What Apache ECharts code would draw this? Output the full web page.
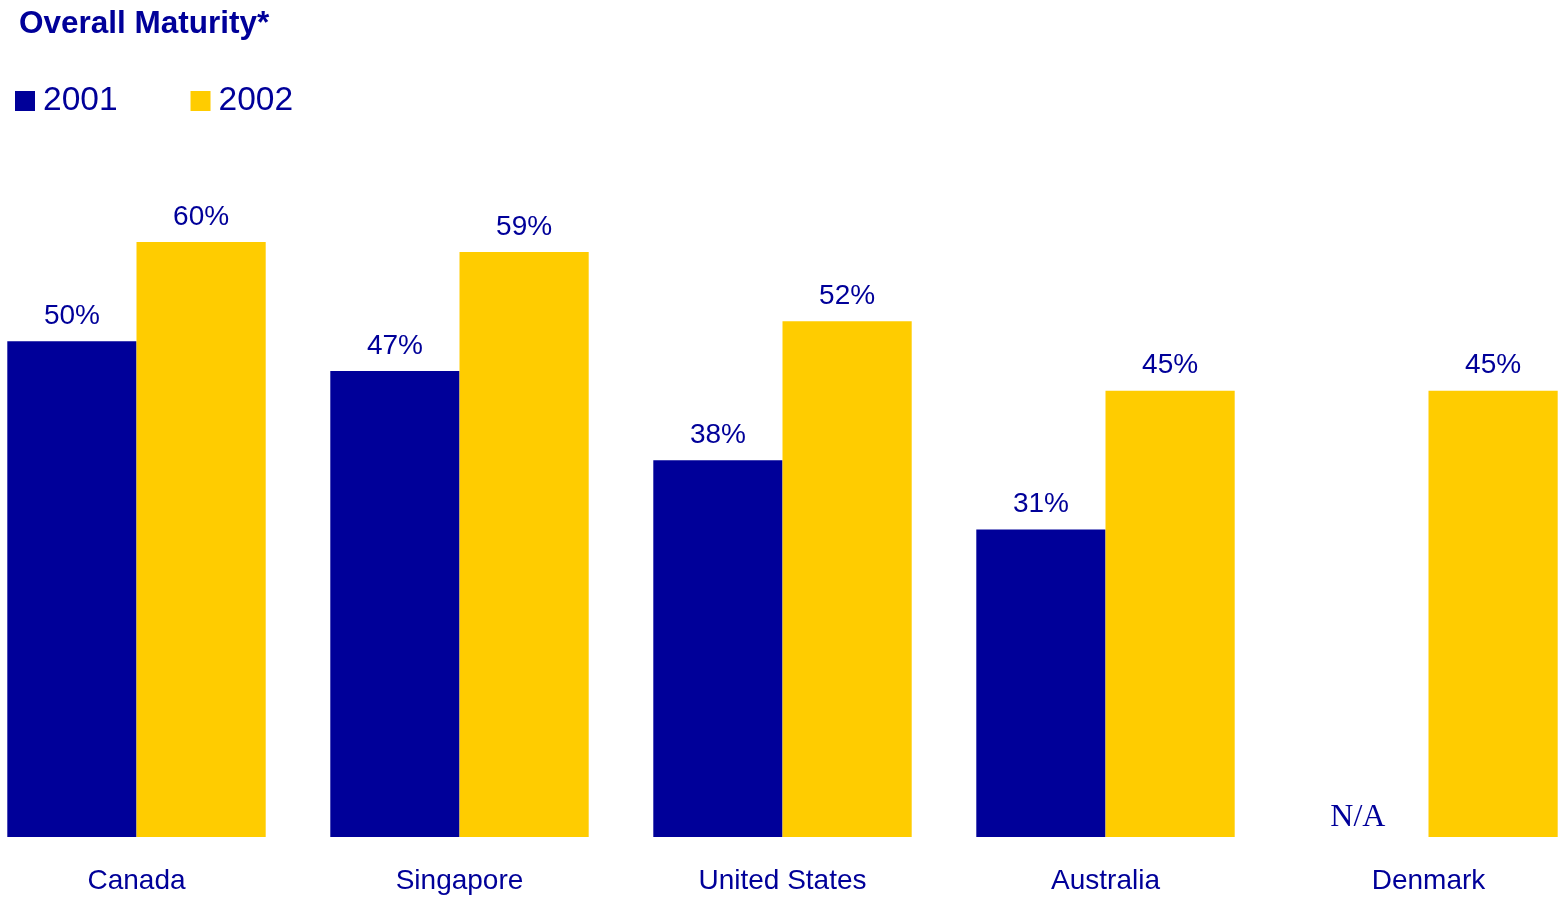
<!DOCTYPE html>
<html>
<head>
<meta charset="utf-8">
<style>
  html, body { margin: 0; padding: 0; background: #fff; }
  #chart { width: 1558px; height: 898px; }
</style>
<script src="https://cdn.jsdelivr.net/npm/echarts@6/dist/echarts.min.js"></script>
</head>
<body>
<div id="chart"></div>
<script>
const countries = ['Canada', 'Singapore', 'United States', 'Australia', 'Denmark']
const values2001 = [50, 47, 38, 31, null]
const values2002 = [60, 59, 52, 45, 45]

const blue = '#000099'
const yellow = '#FFCC00'

const chart = echarts.init(document.getElementById('chart'))

const labelStyle = {
  show: true,
  position: 'top',
  distance: 11,
  color: blue,
  fontFamily: 'Liberation Sans, Arial, sans-serif',
  fontSize: 28,
  formatter: '{c}%'
}

// missing 2001 value is shown as "N/A" at the baseline
const data2001 = values2001.map(v => v == null
  ? {
      value: 0,
      label: {
        formatter: 'N/A',
        fontFamily: 'Liberation Serif, Times New Roman, serif',
        fontSize: 32,
        distance: 3,
        offset: [-6, 0]
      }
    }
  : v)

const option = {
  backgroundColor: '#fff',
  animation: false,
  title: {
    text: 'Overall Maturity*',
    left: 14,
    top: 3,
    textStyle: {
      color: blue,
      fontFamily: 'Liberation Sans, Arial, sans-serif',
      fontWeight: 'bold',
      fontSize: 31.5
    }
  },
  legend: {
    left: 10,
    top: 79,
    itemWidth: 20,
    itemHeight: 20,
    itemGap: 73,
    icon: 'rect',
    textStyle: {
      color: blue,
      fontFamily: 'Liberation Sans, Arial, sans-serif',
      fontSize: 33.5,
      padding: [0, 0, 0, 3]
    },
    data: ['2001', '2002']
  },
  grid: {
    left: -25,
    width: 1615,
    top: 242,
    height: 595,
    outerBoundsMode: 'none',
    containLabel: false
  },
  xAxis: {
    type: 'category',
    data: countries,
    axisLine: { show: false },
    axisTick: { show: false },
    axisLabel: {
      margin: 30,
      color: blue,
      fontFamily: 'Liberation Sans, Arial, sans-serif',
      fontSize: 28
    }
  },
  yAxis: {
    type: 'value',
    min: 0,
    max: 60,
    show: false,
    splitLine: { show: false }
  },
  series: [
    {
      name: '2001',
      type: 'bar',
      data: data2001,
      barGap: '0%',
      barCategoryGap: '20%',
      itemStyle: { color: blue },
      label: labelStyle
    },
    {
      name: '2002',
      type: 'bar',
      data: values2002,
      barGap: '0%',
      barCategoryGap: '20%',
      itemStyle: { color: yellow },
      label: labelStyle
    }
  ]
}

chart.setOption(option)
</script>
</body>
</html>
